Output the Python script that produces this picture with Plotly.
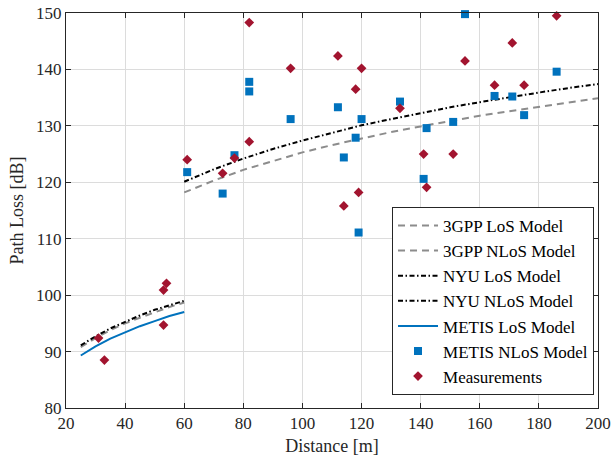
import plotly.graph_objects as go

# Model curves
los_dist = [25, 30, 35, 40, 45, 50, 55, 60]
gpp_los = [90.8, 92.4, 93.8, 95.0, 96.0, 97.0, 97.9, 98.7]
nyu_los = [91.1, 92.7, 94.1, 95.3, 96.4, 97.4, 98.2, 99.0]
metis_los = [89.3, 90.9, 92.3, 93.4, 94.5, 95.4, 96.3, 97.0]

nlos_dist = [60, 70, 80, 90, 100, 110, 120, 130, 140, 150, 160, 170, 180, 190, 200]
gpp_nlos = [118.2, 120.3, 122.2, 123.8, 125.3, 126.6, 127.8, 128.9, 129.9, 130.9, 131.8, 132.6, 133.4, 134.2, 134.9]
nyu_nlos = [120.1, 122.3, 124.2, 125.9, 127.4, 128.8, 130.1, 131.2, 132.3, 133.3, 134.2, 135.1, 135.9, 136.7, 137.4]

# METIS NLoS model points
metis_nlos_dist = [61, 73, 77, 82, 82, 96, 112, 114, 118, 119, 120, 133, 141, 142, 151, 155, 165, 171, 175, 186]
metis_nlos_pl = [121.8, 118.0, 124.8, 137.8, 136.1, 131.2, 133.3, 124.4, 127.9, 111.1, 131.2, 134.3, 120.6, 129.6, 130.7, 149.8, 135.3, 135.2, 131.9, 139.6]

# Measurements
meas_dist = [31, 33, 53, 54, 53, 61, 73, 77, 82, 82, 96, 112, 114, 118, 119, 120, 133, 141, 142, 151, 155, 165, 171, 175, 186]
meas_pl = [92.4, 88.5, 100.9, 102.1, 94.7, 124.0, 121.6, 124.3, 148.3, 127.2, 140.2, 142.4, 115.8, 136.5, 118.2, 140.2, 133.1, 125.0, 119.1, 125.0, 141.5, 137.2, 144.7, 137.2, 149.5]

x_ticks = [20, 40, 60, 80, 100, 120, 140, 160, 180, 200]
y_ticks = [80, 90, 100, 110, 120, 130, 140, 150]

FONT = "Liberation Serif"
TXT = "#262626"
GRAY = "#8c8c8c"
BLUE = "#0072BD"
RED = "#A2142F"
gdash = "7px,5px"
ndash = "5px,2.5px,1.5px,2.5px"

fig = go.Figure()
fig.add_trace(go.Scatter(x=los_dist, y=gpp_los, mode="lines", name="3GPP LoS Model",
                         line=dict(color=GRAY, width=2, dash=gdash)))
fig.add_trace(go.Scatter(x=nlos_dist, y=gpp_nlos, mode="lines", name="3GPP NLoS Model",
                         line=dict(color=GRAY, width=2, dash=gdash)))
fig.add_trace(go.Scatter(x=los_dist, y=nyu_los, mode="lines", name="NYU LoS Model",
                         line=dict(color="black", width=2, dash=ndash)))
fig.add_trace(go.Scatter(x=nlos_dist, y=nyu_nlos, mode="lines", name="NYU NLoS Model",
                         line=dict(color="black", width=2, dash=ndash)))
fig.add_trace(go.Scatter(x=los_dist, y=metis_los, mode="lines", name="METIS LoS Model",
                         line=dict(color=BLUE, width=2)))
fig.add_trace(go.Scatter(x=metis_nlos_dist, y=metis_nlos_pl, mode="markers", name="METIS NLoS Model",
                         marker=dict(symbol="square", size=8, color=BLUE), cliponaxis=False))
fig.add_trace(go.Scatter(x=meas_dist, y=meas_pl, mode="markers", name="Measurements",
                         marker=dict(symbol="diamond", size=7.5, color=RED), cliponaxis=False))

axis_common = dict(showline=True, linecolor=TXT, linewidth=1, mirror="ticks",
                   ticks="inside", ticklen=5, tickcolor=TXT, automargin=False,
                   showgrid=True, gridcolor="#dcdcdc", gridwidth=1, zeroline=False,
                   tickfont=dict(family=FONT, size=17, color=TXT))

fig.update_xaxes(range=[20, 200], tickvals=x_ticks,
                 title=dict(text="Distance [m]", font=dict(family=FONT, size=18, color=TXT), standoff=6),
                 **axis_common)
fig.update_yaxes(range=[80, 150], tickvals=y_ticks,
                 title=dict(text="Path Loss [dB]", font=dict(family=FONT, size=18, color=TXT), standoff=7),
                 **axis_common)

fig.update_layout(
    width=613, height=461,
    margin=dict(l=66, r=15, t=13, b=53),
    plot_bgcolor="white", paper_bgcolor="white",
    font=dict(family=FONT, size=17, color="black"),
    legend=dict(x=0.9925, y=0.033, xanchor="right", yanchor="bottom",
                bgcolor="white", bordercolor=TXT, borderwidth=1,
                font=dict(family=FONT, size=17, color="black"),
                itemwidth=40, tracegroupgap=0),
)

fig.write_html("out.html")
